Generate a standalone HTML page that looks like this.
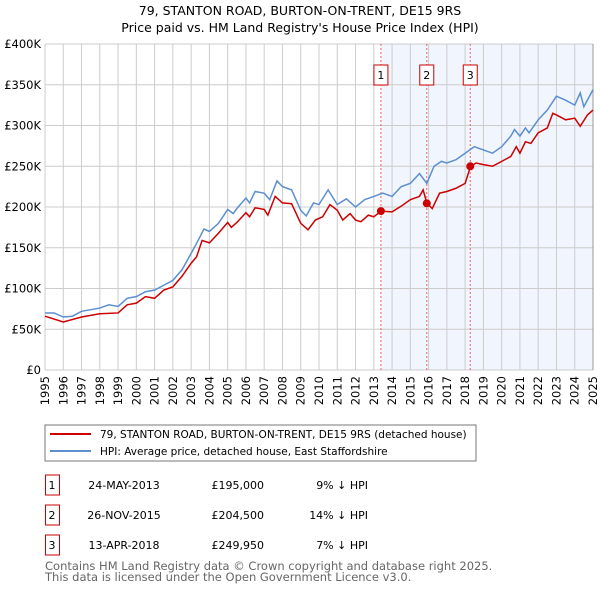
<!DOCTYPE html>
<html><head><meta charset="utf-8"><style>
body{margin:0;background:#fff;width:600px;height:590px;overflow:hidden;font-family:"DejaVu Sans","Liberation Sans",sans-serif;}
svg text{font-family:"DejaVu Sans","Liberation Sans",sans-serif;}
</style></head><body>
<svg id="chart" width="600" height="590" xmlns="http://www.w3.org/2000/svg">
<text x="300" y="15" text-anchor="middle" font-size="12.5">79, STANTON ROAD, BURTON-ON-TRENT, DE15 9RS</text>
<text x="300" y="32" text-anchor="middle" font-size="12.5">Price paid vs. HM Land Registry's House Price Index (HPI)</text>
<g id="plot"></g>
<g>
<rect x="45" y="425" width="431" height="36" fill="#fff" stroke="#777"/>
<line x1="50" y1="434" x2="91" y2="434" stroke="#cc0000" stroke-width="2"/>
<text x="100" y="438" font-size="10.5">79, STANTON ROAD, BURTON-ON-TRENT, DE15 9RS (detached house)</text>
<line x1="50" y1="451" x2="91" y2="451" stroke="#5b8fd0" stroke-width="2"/>
<text x="100" y="455" font-size="10.5">HPI: Average price, detached house, East Staffordshire</text>
</g>
<g id="table"></g>
<text x="45" y="570" font-size="11.5" fill="#666">Contains HM Land Registry data © Crown copyright and database right 2025.</text>
<text x="45" y="581" font-size="11.5" fill="#666">This data is licensed under the Open Government Licence v3.0.</text>
</svg>
<script>
const hpiT=[1995,1995.5,1996,1996.5,1997,1997.5,1998,1998.5,1999,1999.5,2000,2000.5,2001,2001.5,2002,2002.5,2003,2003.5,2003.7,2004,2004.5,2005,2005.3,2005.5,2006,2006.2,2006.5,2007,2007.3,2007.7,2008,2008.5,2009,2009.3,2009.7,2010,2010.5,2011,2011.5,2012,2012.5,2013,2013.5,2014,2014.5,2015,2015.5,2015.9,2016.3,2016.7,2017,2017.5,2018,2018.5,2019,2019.5,2020,2020.5,2020.7,2021,2021.3,2021.5,2022,2022.5,2023,2023.5,2024,2024.3,2024.5,2025];
const hpiV=[70,70,65,66,72,74,76,80,78,88,90,96,98,104,110,123,143,164,173,170,180,197,192,198,211,205,219,217,209,232,225,221,196,189,205,203,221,203,210,200,209,213,217,213,225,229,241,229,250,256,254,258,266,274,270,266,274,287,295,287,297,291,307,319,336,331,325,340,323,344];
const ppT=[1995,1996,1997,1998,1999,1999.5,2000,2000.5,2001,2001.5,2002,2002.5,2003,2003.3,2003.6,2004,2004.5,2005,2005.2,2005.5,2006,2006.2,2006.5,2007,2007.2,2007.6,2008,2008.5,2009,2009.4,2009.8,2010.2,2010.6,2011,2011.3,2011.7,2012,2012.3,2012.7,2013,2013.4,2014,2014.5,2015,2015.5,2015.7,2015.9,2016.2,2016.6,2017,2017.5,2018,2018.3,2018.6,2019,2019.5,2020,2020.5,2020.8,2021,2021.3,2021.6,2022,2022.5,2022.8,2023,2023.5,2024,2024.3,2024.7,2025];
const ppV=[66,59,65,69,70,80,82,90,88,98,102,115,131,139,159,156,168,181,175,181,193,188,199,197,190,213,205,204,180,172,184,188,203,196,184,192,184,182,190,188,195,194,201,209,213,221,205,198,217,219,223,229,250,254,252,250,256,262,274,266,280,278,291,297,315,313,307,309,299,313,319];
const saleLabels=["1","2","3"];
const saleDates=["24-MAY-2013","26-NOV-2015","13-APR-2018"];
const saleT=[2013.39,2015.9,2018.28];
const salePrices=[195000,204500,249950];
const salePriceLabels=["£195,000","£204,500","£249,950"];
const saleDiffs=["9% ↓ HPI","14% ↓ HPI","7% ↓ HPI"];
const yTicks=[0,50,100,150,200,250,300,350,400];
const yTickLabels=["£0","£50K","£100K","£150K","£200K","£250K","£300K","£350K","£400K"];
const xYears=[1995,1996,1997,1998,1999,2000,2001,2002,2003,2004,2005,2006,2007,2008,2009,2010,2011,2012,2013,2014,2015,2016,2017,2018,2019,2020,2021,2022,2023,2024,2025];

const NS="http://www.w3.org/2000/svg";
const L=45,R=593,T=44,B=370;
const x=t=>L+(t-1995)/30*(R-L);
const y=v=>B-v/400*(B-T);
const plot=document.getElementById('plot');
function mk(tag,attrs,parent){const e=document.createElementNS(NS,tag);for(const k in attrs)e.setAttribute(k,attrs[k]);(parent||plot).appendChild(e);return e;}

const shade=mk('rect',{x:x(saleT[0]),y:T,width:R-x(saleT[0]),height:B-T,fill:'#eef3fc',opacity:0.8});


xYears.forEach(yr=>{const g=mk('line',{x1:x(yr),x2:x(yr),y1:T,y2:B,stroke:'#ccc','stroke-width':1});


const t=mk('text',{x:0,y:0,'font-size':11.5,'text-anchor':'end',transform:`translate(${x(yr)+4},${B+6}) rotate(-90)`});t.textContent=yr;

});
yTicks.forEach((v,i)=>{const g=mk('line',{x1:L,x2:R,y1:y(v),y2:y(v),stroke:'#ccc','stroke-width':1});


const t=mk('text',{x:L-4,y:y(v)+4,'font-size':11.5,'text-anchor':'end'});t.textContent=yTickLabels[i];

});
const rb=mk('line',{x1:R,x2:R,y1:T,y2:B,stroke:'#999'});



saleT.forEach((t,i)=>{const l=mk('line',{x1:x(t),x2:x(t),y1:T,y2:B,stroke:'#f06060','stroke-dasharray':'2,2'});


const r=mk('rect',{x:x(t)-7,y:65,width:14,height:20,fill:'#fff',stroke:'#cc0000'});


const tx=mk('text',{x:x(t),y:79,'font-size':11,'text-anchor':'middle'});tx.textContent=saleLabels[i];

});

const hp=mk('polyline',{points:hpiT.map((t,i)=>x(t)+','+y(hpiV[i])).join(' '),fill:'none',stroke:'#5b8fd0','stroke-width':1.5});


const pp=mk('polyline',{points:ppT.map((t,i)=>x(t)+','+y(ppV[i])).join(' '),fill:'none',stroke:'#cc0000','stroke-width':1.5});


saleT.forEach((t,i)=>{const c=mk('circle',{cx:x(t),cy:y(salePrices[i]/1000),r:4,fill:'#cc0000'});

});

const tb=document.getElementById('table');
saleLabels.forEach((lab,i)=>{const cy=485+i*30;
const r=mk('rect',{x:45.5,y:cy-10,width:14,height:20,fill:'#fff',stroke:'#cc0000'},tb);


const vals=[[52,'middle',lab,'table-row-number'],[124,'middle',saleDates[i],'table-row-date'],[264,'end',salePriceLabels[i],'table-row-price'],[368,'end',saleDiffs[i],'table-row-hpi-diff']];
vals.forEach(v=>{const t=mk('text',{x:v[0],y:cy+4,'font-size':11,'text-anchor':v[1]},tb);t.textContent=v[2];

});});
</script>
</body></html>
